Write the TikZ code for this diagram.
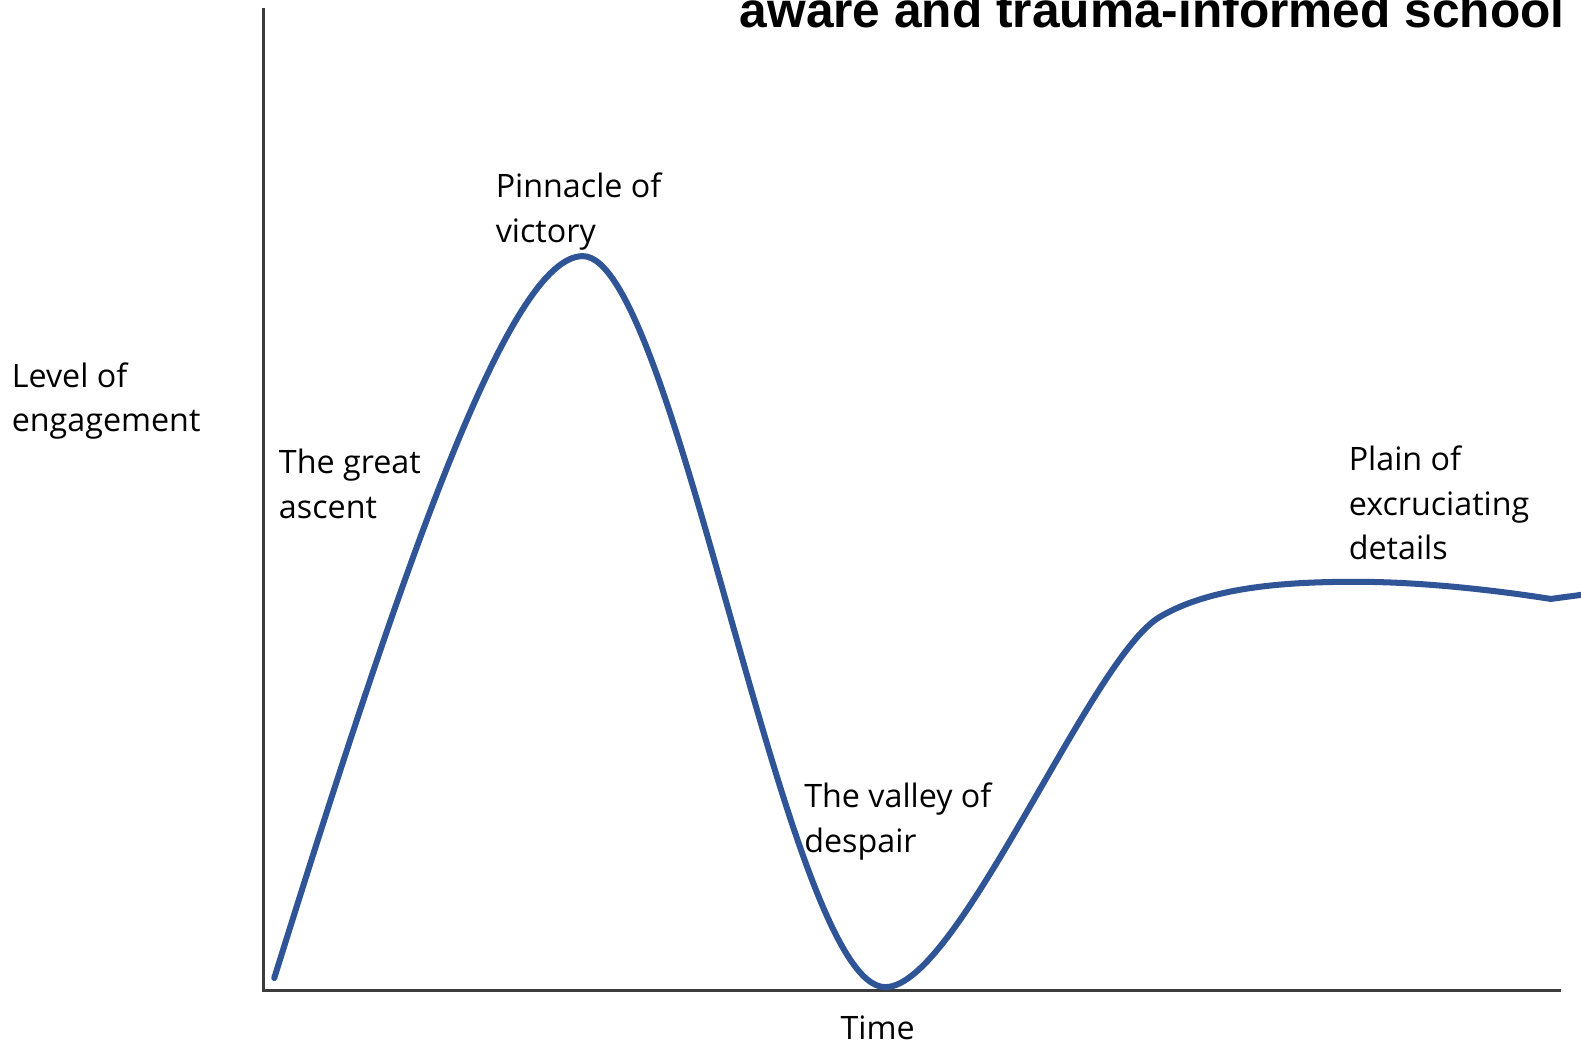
\documentclass[tikz,border=0pt]{standalone}
\usepackage{fontspec}
\setmainfont{Open Sans}
\newfontfamily\titlefont{Liberation Sans}
\definecolor{curveblue}{HTML}{2F5597}
\definecolor{axisgray}{HTML}{3C3C3C}

\begin{document}
\begin{tikzpicture}[x=0.01cm,y=-0.01cm,
  axisline/.style={draw=axisgray,line width=0.85pt},
  hypeline/.style={draw=curveblue,line width=1.7pt,line cap=round,line join=round},
  lbl/.style={inner sep=0pt,anchor=base west,align=left,
    font=\fontsize{9.1pt}{12.5pt}\selectfont}]
\useasboundingbox (0,0) rectangle (1568,1038);
\clip (0,0) rectangle (1568,1038);

\coordinate (top) at (261,8);
\coordinate (O) at (261,982);
\coordinate (right) at (1548,982);

\draw[axisline] (top) -- (O) -- (right);

% the engagement curve
\coordinate (start) at (272,970);
\coordinate (peak) at (578,254);
\coordinate (valley) at (878,979);
\coordinate (knee) at (1150,612);
\coordinate (plateau) at (1345,577);
\coordinate (dip) at (1538,594);
\coordinate (tail) at (1568,590);

\draw[hypeline] (start) .. controls (400,560) and (505,254) .. (peak)
  .. controls (670,254) and (780,979) .. (valley)
  .. controls (950,979) and (1081,653) .. (knee)
  .. controls (1202,581) and (1280,577) .. (plateau)
  .. controls (1420,577) and (1500,588) .. (dip) -- (tail);

% last line of each label sits on the given baseline
\node[lbl] (ylab) at (11,428) {Level of\\engagement};
\node[lbl] (ascent) at (276,514) {The great\\ascent};
\node[lbl] (pinnacle) at (491,240) {Pinnacle of\\victory};
\node[lbl] (valleylab) at (797,845) {The valley of\\despair};
\node[lbl] (plain) at (1337,555) {Plain of\\excruciating\\details};
\node[lbl] (xlab) at (833,1031) {Time};

\node[inner sep=0pt,anchor=base west,font=\titlefont\bfseries\fontsize{14pt}{16pt}\selectfont]
  (title) at (733,27) {aware and trauma-informed school};
\end{tikzpicture}
\end{document}
